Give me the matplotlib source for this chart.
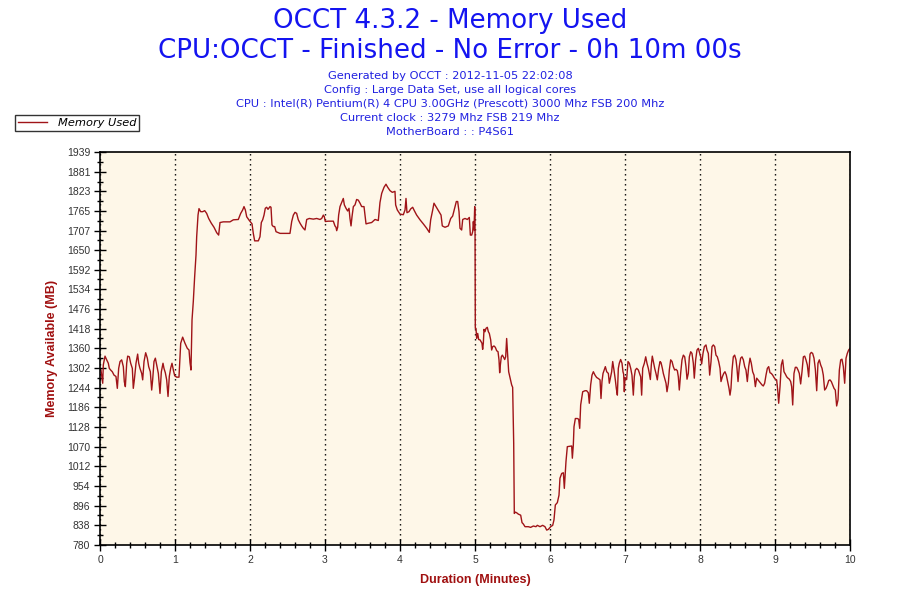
import numpy as np
import matplotlib
matplotlib.use("Agg")
import matplotlib.pyplot as plt
from matplotlib.ticker import MultipleLocator, FixedLocator

# ---- data (minutes, MB) ----
minutes_a = [0.013, 0.036, 0.044, 0.067, 0.089, 0.111, 0.124, 0.142, 0.164, 0.187, 0.213, 0.231,
             0.249, 0.267, 0.289, 0.311, 0.324, 0.338, 0.356, 0.369, 0.391, 0.409, 0.431, 0.444,
             0.458, 0.480, 0.502, 0.516, 0.533, 0.556, 0.569, 0.587, 0.609, 0.631, 0.649, 0.671,
             0.689, 0.702, 0.720, 0.738, 0.756, 0.778, 0.800, 0.818, 0.840, 0.853, 0.871, 0.889,
             0.907, 0.924, 0.942, 0.960, 0.978, 0.996, 1.022, 1.053, 1.076, 1.102, 1.133, 1.164,
             1.187, 1.200, 1.213, 1.227, 1.244, 1.262, 1.280, 1.289, 1.307, 1.320, 1.342, 1.369,
             1.396, 1.422, 1.449, 1.484, 1.520, 1.556, 1.582, 1.600, 1.644, 1.733, 1.778, 1.844,
             1.876, 1.902, 1.920, 1.938, 1.956, 1.991, 2.027, 2.044, 2.062, 2.111, 2.133, 2.151,
             2.169, 2.187, 2.204, 2.222, 2.240, 2.267, 2.280, 2.293, 2.311, 2.329, 2.347, 2.378]
memory_a = [1296, 1257, 1311, 1337, 1326, 1316, 1301, 1296, 1291, 1281, 1277, 1242,
            1301, 1321, 1326, 1306, 1262, 1247, 1316, 1337, 1335, 1316, 1301, 1242,
            1267, 1316, 1343, 1316, 1301, 1286, 1267, 1321, 1347, 1331, 1306, 1291,
            1237, 1267, 1321, 1331, 1311, 1286, 1227, 1291, 1316, 1301, 1288, 1267,
            1218, 1277, 1301, 1316, 1296, 1279, 1275, 1275, 1375, 1393, 1375, 1360,
            1355, 1318, 1296, 1444, 1498, 1571, 1635, 1689, 1753, 1772, 1763, 1763,
            1766, 1758, 1743, 1729, 1717, 1701, 1694, 1731, 1733, 1733, 1739, 1740,
            1758, 1768, 1778, 1768, 1748, 1737, 1727, 1699, 1677, 1677, 1689, 1731,
            1739, 1753, 1773, 1776, 1770, 1778, 1776, 1724, 1719, 1719, 1704, 1701]

minutes_b = [2.400, 2.533, 2.556, 2.578, 2.600, 2.622, 2.644, 2.667, 2.689, 2.711, 2.733, 2.747,
             2.756, 2.791, 2.844, 2.889, 2.933, 2.956, 2.978, 2.991, 3.004, 3.044, 3.111, 3.133,
             3.147, 3.156, 3.169, 3.182, 3.200, 3.227, 3.244, 3.258, 3.280, 3.302, 3.320, 3.333,
             3.347, 3.360, 3.378, 3.400, 3.422, 3.444, 3.467, 3.489, 3.520, 3.547, 3.578, 3.622,
             3.667, 3.711, 3.733, 3.756, 3.787, 3.813, 3.836, 3.867, 3.898, 3.933, 3.942, 3.964,
             4.000, 4.044, 4.067, 4.080, 4.093, 4.120, 4.142, 4.169, 4.191, 4.222, 4.267, 4.311,
             4.356, 4.391, 4.409, 4.436, 4.453, 4.480, 4.511, 4.547, 4.564, 4.600, 4.644, 4.676,
             4.702, 4.729, 4.751, 4.769, 4.787, 4.800, 4.822, 4.836, 4.867, 4.898, 4.924, 4.938,
             4.956, 4.969, 4.978, 4.987, 4.996, 5.000]
memory_b = [1699, 1699, 1734, 1753, 1761, 1758, 1739, 1729, 1721, 1714, 1709, 1729,
            1740, 1743, 1741, 1743, 1740, 1743, 1753, 1748, 1734, 1735, 1735, 1721,
            1717, 1707, 1717, 1753, 1778, 1793, 1802, 1783, 1773, 1765, 1773, 1743,
            1721, 1748, 1778, 1783, 1799, 1797, 1788, 1778, 1778, 1727, 1729, 1731,
            1740, 1737, 1790, 1817, 1835, 1844, 1835, 1825, 1820, 1823, 1783, 1768,
            1756, 1754, 1768, 1802, 1760, 1763, 1771, 1776, 1766, 1753, 1739, 1727,
            1714, 1702, 1739, 1768, 1788, 1778, 1766, 1753, 1721, 1717, 1721, 1743,
            1750, 1773, 1793, 1793, 1763, 1714, 1709, 1740, 1743, 1740, 1746, 1694,
            1694, 1704, 1734, 1709, 1778, 1759]

minutes_c = [5.004, 5.013, 5.022, 5.036, 5.049, 5.067, 5.080, 5.093, 5.102, 5.111, 5.120, 5.133,
             5.147, 5.164, 5.178, 5.191, 5.209, 5.222, 5.236, 5.253, 5.271, 5.289, 5.307, 5.320,
             5.329, 5.338, 5.351, 5.364, 5.378, 5.396, 5.409, 5.422, 5.436, 5.449, 5.467, 5.489,
             5.502, 5.516, 5.524, 5.538, 5.556, 5.578, 5.609, 5.627, 5.644, 5.667, 5.711, 5.742,
             5.778, 5.813, 5.831, 5.867, 5.902, 5.933, 5.956, 5.978, 6.009, 6.036, 6.053, 6.071,
             6.098, 6.120, 6.133, 6.156, 6.178, 6.191, 6.204, 6.213, 6.231, 6.289, 6.298, 6.311,
             6.320, 6.338, 6.364, 6.382, 6.396, 6.409, 6.436, 6.467, 6.489, 6.511, 6.524, 6.542,
             6.560, 6.578, 6.600, 6.622, 6.644, 6.667, 6.680, 6.693, 6.707, 6.720, 6.738, 6.756,
             6.778, 6.791, 6.809, 6.822, 6.836, 6.853, 6.871, 6.884, 6.898, 6.911, 6.924, 6.942,
             6.960, 6.973, 6.982, 6.991, 7.000, 7.022, 7.040, 7.058, 7.076, 7.093, 7.111, 7.124,
             7.138, 7.156, 7.178, 7.196, 7.209, 7.222, 7.236, 7.258, 7.276, 7.293, 7.311, 7.324,
             7.338, 7.351, 7.364, 7.378, 7.396, 7.413, 7.431, 7.449, 7.467]
memory_c = [1419, 1419, 1389, 1404, 1386, 1385, 1380, 1375, 1357, 1375, 1416, 1409,
            1419, 1422, 1409, 1404, 1385, 1355, 1365, 1367, 1363, 1353, 1350, 1326,
            1288, 1311, 1335, 1340, 1335, 1327, 1335, 1389, 1340, 1291, 1274, 1252,
            1245, 1080, 873, 877, 875, 871, 868, 846, 842, 834, 834, 832,
            836, 834, 838, 834, 838, 834, 824, 826, 834, 838, 854, 898,
            905, 927, 977, 991, 993, 947, 991, 1026, 1070, 1072, 1036, 1075,
            1129, 1153, 1153, 1151, 1124, 1193, 1232, 1235, 1235, 1229, 1198, 1252,
            1281, 1291, 1281, 1274, 1271, 1267, 1212, 1262, 1286, 1294, 1306, 1291,
            1286, 1257, 1276, 1291, 1321, 1296, 1267, 1242, 1222, 1301, 1316, 1327,
            1316, 1291, 1284, 1232, 1274, 1268, 1321, 1316, 1301, 1281, 1222, 1276,
            1296, 1301, 1296, 1284, 1276, 1222, 1301, 1316, 1335, 1316, 1301, 1286,
            1268, 1311, 1337, 1321, 1301, 1286, 1267, 1301, 1321]

minutes_d = [7.480, 7.498, 7.511, 7.529, 7.547, 7.560, 7.578, 7.591, 7.609, 7.627, 7.644, 7.662,
             7.680, 7.698, 7.711, 7.724, 7.742, 7.760, 7.778, 7.796, 7.813, 7.827, 7.844, 7.858,
             7.876, 7.893, 7.911, 7.924, 7.942, 7.960, 7.978, 7.991, 8.009, 8.022, 8.040, 8.058,
             8.080, 8.093, 8.111, 8.129, 8.147, 8.160, 8.178, 8.196, 8.213, 8.231, 8.249, 8.267,
             8.280, 8.298, 8.316, 8.333, 8.351, 8.369, 8.387, 8.400, 8.413, 8.427, 8.444, 8.462,
             8.480, 8.493, 8.507, 8.524, 8.542, 8.560, 8.578, 8.596, 8.613, 8.631, 8.649, 8.667,
             8.684, 8.702, 8.720, 8.738, 8.756, 8.773, 8.791, 8.809, 8.827, 8.844, 8.862, 8.880,
             8.898, 8.916, 8.933, 8.951, 8.969, 8.987, 9.004, 9.022, 9.036, 9.049, 9.067, 9.084,
             9.102, 9.120, 9.138, 9.156, 9.173, 9.191, 9.209, 9.222, 9.236, 9.253, 9.271, 9.289,
             9.307, 9.324, 9.342, 9.360, 9.378, 9.396, 9.413, 9.431, 9.449, 9.467, 9.484, 9.502,
             9.520, 9.538, 9.556, 9.573, 9.591, 9.609, 9.627, 9.644, 9.662, 9.680, 9.698, 9.716,
             9.733, 9.751, 9.769, 9.787, 9.804, 9.822, 9.840, 9.858, 9.876, 9.893, 9.911, 9.929,
             9.947, 9.964, 9.982, 10.000]
memory_d = [1318, 1301, 1286, 1272, 1257, 1232, 1257, 1296, 1326, 1321, 1306, 1296,
            1298, 1294, 1276, 1237, 1286, 1326, 1340, 1335, 1306, 1269, 1286, 1335,
            1350, 1345, 1316, 1272, 1326, 1355, 1360, 1350, 1335, 1314, 1345, 1365,
            1370, 1355, 1345, 1281, 1321, 1365, 1370, 1365, 1340, 1335, 1321, 1301,
            1262, 1276, 1286, 1291, 1281, 1262, 1242, 1222, 1242, 1296, 1335, 1340,
            1326, 1301, 1262, 1306, 1331, 1335, 1326, 1306, 1296, 1262, 1306, 1331,
            1316, 1291, 1281, 1247, 1272, 1267, 1262, 1257, 1252, 1249, 1257, 1281,
            1301, 1306, 1288, 1286, 1281, 1274, 1269, 1267, 1237, 1198, 1247, 1311,
            1326, 1291, 1284, 1276, 1272, 1269, 1262, 1247, 1193, 1286, 1304, 1304,
            1296, 1286, 1255, 1291, 1335, 1337, 1326, 1311, 1276, 1343, 1348, 1345,
            1331, 1298, 1235, 1316, 1326, 1311, 1301, 1281, 1237, 1242, 1252, 1265,
            1267, 1262, 1252, 1242, 1237, 1190, 1208, 1296, 1326, 1328, 1306, 1257,
            1331, 1345, 1355, 1360]

y_ticks = [780, 838, 896, 954, 1012, 1070, 1128, 1186, 1244, 1302, 1360, 1418,
           1476, 1534, 1592, 1650, 1707, 1765, 1823, 1881, 1939]
x_ticks = [0, 1, 2, 3, 4, 5, 6, 7, 8, 9, 10]

title_lines = ["OCCT 4.3.2 - Memory Used",
               "CPU:OCCT - Finished - No Error - 0h 10m 00s"]
info_lines = ["Generated by OCCT : 2012-11-05 22:02:08",
              "Config : Large Data Set, use all logical cores",
              "CPU : Intel(R) Pentium(R) 4 CPU 3.00GHz (Prescott) 3000 Mhz FSB 200 Mhz",
              "Current clock : 3279 Mhz FSB 219 Mhz",
              "MotherBoard : : P4S61"]

minutes = minutes_a + minutes_b + minutes_c + minutes_d
memory = memory_a + memory_b + memory_c + memory_d

# ---- figure ----
fig = plt.figure(figsize=(9, 6), dpi=100)
fig.patch.set_facecolor("white")
ax = fig.add_axes([100 / 900, 55 / 600, 750 / 900, 393 / 600])
ax.set_facecolor("#FEF7E8")

line_color = "#A01418"
ax.plot(minutes, memory, color=line_color, lw=1.0, label="Memory Used")

ax.set_xlim(0, 10)
ax.set_ylim(780, 1939)

ax.xaxis.set_major_locator(FixedLocator(x_ticks))
ax.xaxis.set_minor_locator(MultipleLocator(0.2))
ax.yaxis.set_major_locator(FixedLocator(y_ticks))
ax.yaxis.set_minor_locator(FixedLocator([(y_ticks[i] + y_ticks[i + 1]) / 2 for i in range(len(y_ticks) - 1)]))

ax.tick_params(axis="both", which="major", direction="inout", length=8, width=1, color="black",
               labelsize=7.5, labelcolor="#333333", pad=3)
ax.tick_params(axis="both", which="minor", direction="inout", length=5, width=1, color="black")
for lab in ax.get_xticklabels() + ax.get_yticklabels():
    lab.set_fontfamily("Liberation Sans")

for s in ax.spines.values():
    s.set_color("black")
    s.set_linewidth(1.2)

ax.grid(axis="x", which="major", color="black", linestyle=(0, (1, 2.6)), linewidth=1)

label_color = "#A01010"
ax.set_xlabel("Duration (Minutes)", fontsize=9, fontweight="bold", color=label_color,
              family="Liberation Sans", labelpad=7)
ax.set_ylabel("Memory Available (MB)", fontsize=9, fontweight="bold", color=label_color,
              family="Liberation Sans", labelpad=6)

title_color = "#1414F0"
fig.text(0.5, 1 - 21 / 600, title_lines[0], ha="center", va="center", fontsize=18.8,
         color=title_color, family="DejaVu Sans")
fig.text(0.5, 1 - 51 / 600, title_lines[1], ha="center", va="center", fontsize=18.8,
         color=title_color, family="DejaVu Sans")
for i, t in enumerate(info_lines):
    fig.text(0.5, 1 - (76 + 14 * i) / 600, t, ha="center", va="center", fontsize=8.2,
             color="#2020E0", family="DejaVu Sans")

leg = fig.legend(loc="upper left", bbox_to_anchor=(15 / 900, 1 - 115 / 600), frameon=True,
                 fancybox=False, fontsize=8.2, handlelength=2.6, borderpad=0.25,
                 handletextpad=0.9, borderaxespad=0)
leg.get_frame().set_edgecolor("black")
leg.get_frame().set_linewidth(1)
for t in leg.get_texts():
    t.set_fontstyle("italic")
    t.set_fontfamily("DejaVu Sans")

fig.savefig("out.png", dpi=100)
